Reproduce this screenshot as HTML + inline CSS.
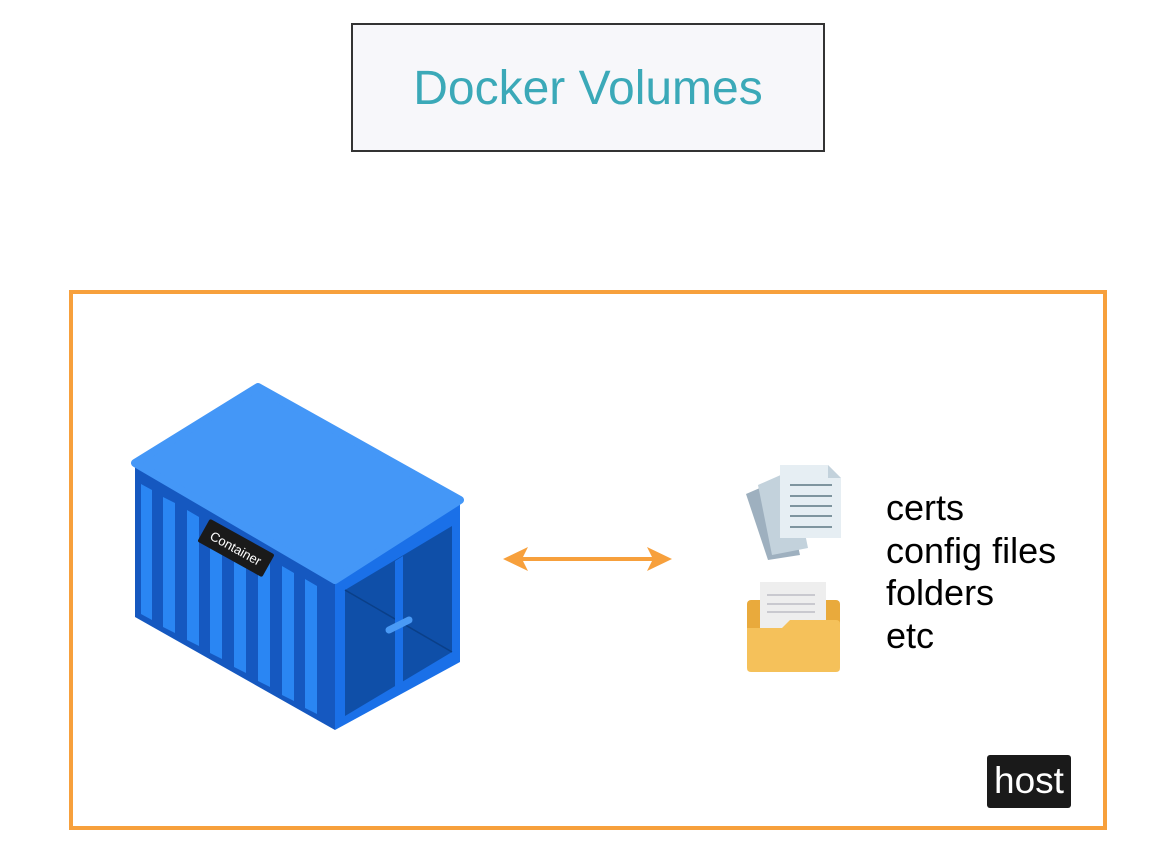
<!DOCTYPE html>
<html><head><meta charset="utf-8"><style>
html,body{margin:0;padding:0;background:#fff;width:1162px;height:850px;overflow:hidden;font-family:"Liberation Sans",sans-serif}
.t{position:absolute;left:351px;top:23px;width:470px;height:125px;border:2px solid #333;background:#f7f7fa;color:#3ba9b8;font-size:48px;text-align:center;line-height:128px}
.f{position:absolute;left:69px;top:290px;width:1030px;height:532px;border:4px solid #f7a03c}
.l{position:absolute;left:886px;top:487px;font-size:36px;line-height:42.5px;color:#000}
.h{position:absolute;left:987px;top:755px;width:84px;height:53px;background:#1a1a1a;border-radius:3px;color:#fff;font-size:37px;text-align:center;line-height:52px}
</style></head><body>
<div class="t">Docker Volumes</div>
<div class="f"></div>
<svg width="1162" height="850" style="position:absolute;left:0;top:0">
<polygon points="135,463 335,580 335,730 135,617" fill="#1558c0"/>
<g fill="#2a86f3">
<polygon points="141,484 152,490 152,620 141,614"/>
<polygon points="163,497 175,503 175,633 163,627"/>
<polygon points="187,510 199,517 199,646 187,640"/>
<polygon points="210,524 222,531 222,659 210,653"/>
<polygon points="234,538 246,545 246,673 234,667"/>
<polygon points="258,552 270,559 270,687 258,681"/>
<polygon points="282,566 294,573 294,701 282,695"/>
<polygon points="305,579 317,586 317,714 305,708"/>
</g>
<polygon points="335,580 460,500 460,662 335,730" fill="#1a70e8"/>
<polygon points="345,590 452,526 452,652 345,716" fill="#0f4fa8"/>
<line x1="345" y1="590" x2="452" y2="652" stroke="#0a3f88" stroke-width="1.5"/>
<polygon points="395,561 403,556 403,688 395,693" fill="#1a70e8"/>
<line x1="389" y1="630" x2="409" y2="620" stroke="#4a9af5" stroke-width="7" stroke-linecap="round"/>
<polygon points="135,463 258,387 460,500 335,580" fill="#4497f7" stroke="#4497f7" stroke-width="8" stroke-linejoin="round"/>
<g transform="translate(236,548) rotate(29)">
<rect x="-37" y="-13" width="74" height="26" rx="2" fill="#1a1a1a"/>
<text x="0" y="5" fill="#fff" font-size="13" text-anchor="middle" font-family="Liberation Sans">Container</text>
</g>
<line x1="518" y1="559" x2="657" y2="559" stroke="#f7a03c" stroke-width="4"/>
<polygon points="503,559 528,547 522,559 528,571" fill="#f7a03c"/>
<polygon points="672,559 647,547 653,559 647,571" fill="#f7a03c"/>
<polygon points="746,494 783,478 800,555 768,560" fill="#9eb0bf"/>
<polygon points="758,485 792,470 808,548 772,555" fill="#c3d2dc"/>
<polygon points="780,465 828,465 841,478 841,538 780,538" fill="#e6eef3"/>
<polygon points="828,465 841,478 828,478" fill="#c3d2dc"/>
<g stroke="#7f959f" stroke-width="2"><line x1="790" y1="485" x2="832" y2="485"/><line x1="790" y1="496" x2="832" y2="496"/><line x1="790" y1="506" x2="832" y2="506"/><line x1="790" y1="516" x2="832" y2="516"/><line x1="790" y1="527" x2="832" y2="527"/></g>
<rect x="747" y="600" width="93" height="70" rx="4" fill="#e9aa3c"/>
<rect x="760" y="582" width="66" height="70" fill="#eeeeee"/>
<g stroke="#c9c9cf" stroke-width="2"><line x1="767" y1="595" x2="815" y2="595"/><line x1="767" y1="604" x2="815" y2="604"/><line x1="767" y1="612" x2="815" y2="612"/></g>
<path d="M747,628 L782,628 L790,620 L836,620 Q840,620 840,624 L840,668 Q840,672 836,672 L751,672 Q747,672 747,668 Z" fill="#f5c15a"/>
</svg>
<div class="l">certs<br>config files<br>folders<br>etc</div>
<div class="h">host</div>
</body></html>
